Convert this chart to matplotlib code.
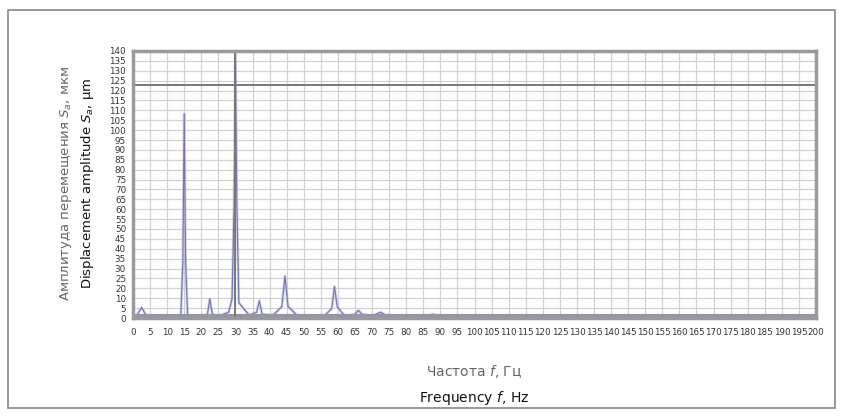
import numpy as np
import matplotlib.pyplot as plt
from matplotlib.patches import Rectangle

# spectrum points (Hz, um)
freq = [0, 1, 2.5, 4, 6, 10, 14, 14.6, 15, 15.4, 16, 20, 21.8, 22.5, 23.2, 25,
        28, 29, 29.6, 30, 30.4, 31, 34, 36.2, 37, 37.8, 41, 43.6, 44.5, 45.4, 48,
        52, 56, 58.2, 59, 59.8, 62, 65, 66, 67, 70, 72.5, 74, 77, 85, 88, 90, 100,
        115, 117, 120, 140, 160, 162, 165, 173, 175, 177, 200]
amp = [0, 1, 5.5, 1, 0.5, 0.5, 1, 30, 107, 30, 1, 0.5, 2, 10, 2, 1,
       3, 10, 60, 140, 60, 8, 1.5, 3, 9, 2, 1.5, 6, 22, 6, 1.5,
       1, 1, 5, 16.5, 6, 1, 2, 4, 2, 1, 3, 1.5, 0.5, 0.5, 2, 0.5, 0.5,
       0.5, 1, 0.5, 0.5, 0.5, 1, 0.5, 0.5, 1, 0.5, 0.5]

x_ticks = list(range(0, 201, 5))
y_labels = ["0", "5", "10", "20", "25", "30", "35", "40", "45", "50", "55", "60", "65",
            "70", "75", "80", "85", "90", "95", "100", "105", "110", "115", "120",
            "125", "130", "135", "140"]
limit_f = 30
limit_s = 122

fig = plt.figure(figsize=(8.43, 4.16), dpi=100)
# outer frame of the figure
fig.patches.append(Rectangle((8 / 843, 8 / 416), 827 / 843, 398 / 416, transform=fig.transFigure,
                             fill=False, edgecolor="#888888", lw=1.2))

ax = fig.add_axes([133 / 843, 98 / 416, 683 / 843, 267 / 416])
ax.set_xlim(0, 200)
ax.set_ylim(0, 140)

# grid
ax.set_xticks(x_ticks)
ax.set_yticks(np.linspace(0, 140, len(y_labels)))
ax.grid(which="major", color="#d2d2d2", lw=0.9)
ax.tick_params(which="both", length=0)

# spectrum
ax.plot(freq, amp, color="#b4b4d0", lw=2.0, alpha=0.6)
ax.plot(freq, amp, color="#7474bc", lw=0.8)
ax.axhline(0.8, color="#9494aa", lw=3)

# limit lines
ax.axvline(limit_f, color="#787878", lw=1.4)
ax.axhline(limit_s, color="#787878", lw=1.4)

for s in ax.spines.values():
    s.set_color("#9a9a9a")
    s.set_linewidth(2.5)

ax.set_xticklabels([str(v) for v in x_ticks], fontsize=6.3, color="#333333")
ax.set_yticklabels(y_labels, fontsize=6.3, color="#333333")
ax.tick_params(axis="x", pad=7)
ax.tick_params(axis="y", pad=5)

fig.text(66 / 843, 1 - 183 / 416, "Амплитуда перемещения $S_a$, мкм", rotation=90,
         ha="center", va="center", fontsize=9.5, color="#666666")
fig.text(88 / 843, 1 - 183 / 416, "Displacement amplitude $S_a$, μm", rotation=90,
         ha="center", va="center", fontsize=9.5, color="#111111")
fig.text(474 / 843, 1 - 372 / 416, "Частота $f$, Гц", ha="center", va="center",
         fontsize=10, color="#666666")
fig.text(474 / 843, 1 - 398 / 416, "Frequency $f$, Hz", ha="center", va="center",
         fontsize=10, color="#111111")

fig.savefig("out.png", dpi=100)
